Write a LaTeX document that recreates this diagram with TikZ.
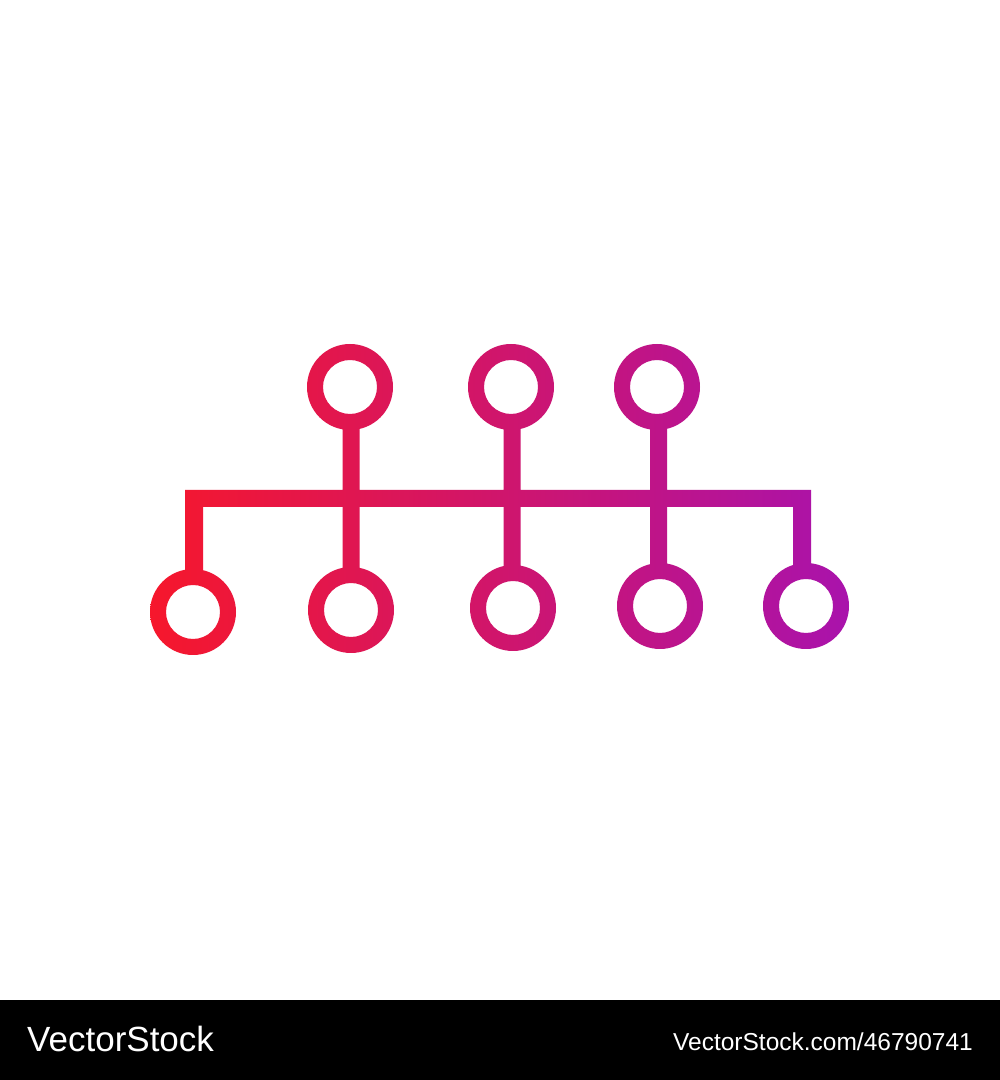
\documentclass[tikz,border=0pt]{standalone}
\usepackage{fontspec}
\setmainfont{Liberation Sans}
\definecolor{gradL}{HTML}{F6172C}
\definecolor{gradR}{HTML}{A913AC}
\tikzset{
  brand/.style={text=white, inner sep=0pt, font=\fontsize{35}{35}\selectfont},
  url/.style={text=white, inner sep=0pt, font=\fontsize{24.5}{24.5}\selectfont},
}
\begin{document}
\begin{tikzpicture}[x=1pt,y=1pt]
\useasboundingbox (0,0) rectangle (1000,1080);
\fill[white] (0,0) rectangle (1000,1080);
\fill[black] (0,0) rectangle (1000,80);
% ring centres
\coordinate (t1) at (350,693);
\coordinate (t2) at (511,693);
\coordinate (t3) at (657,693);
\coordinate (b1) at (193,468);
\coordinate (b2) at (351,470);
\coordinate (b3) at (513,472);
\coordinate (b4) at (660,474);
\coordinate (b5) at (806,474);
% whole icon as one path, shaded left to right
\shade[left color=gradL, right color=gradR]
  \foreach \c in {t1,t2,t3,b1,b2,b3,b4,b5}{
    (\c) ++(43,0) arc[start angle=0, end angle=-360, radius=43]
    (\c) ++(27,0) arc[start angle=0, end angle=360, radius=27]
  }
  (185,573) rectangle (811,590)
  (185,503) rectangle (203,590)
  (793,509) rectangle (811,590)
  (342.5,505) rectangle (359.5,658)
  (503.5,507) rectangle (520.5,658)
  (650,509) rectangle (667,658);
\node[brand, anchor=base west] (logo) at (27,28) {VectorStock};
\node[url, anchor=base east] (link) at (973,29) {VectorStock.com/46790741};
\end{tikzpicture}
\end{document}
